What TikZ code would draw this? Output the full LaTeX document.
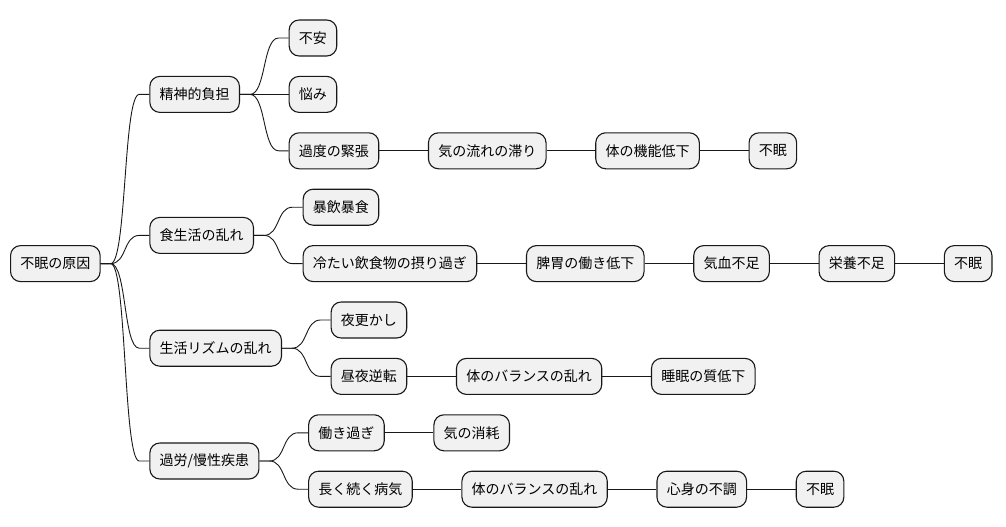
\documentclass[tikz,border=0pt]{standalone}
\usepackage{fontspec}
\setmainfont{Noto Sans CJK JP}
\usepackage{xcolor}
\usetikzlibrary{positioning,calc}

\definecolor{boxgray}{HTML}{F1F1F1}
\definecolor{linegray}{HTML}{181818}

\tikzset{
  topic/.style={draw=linegray, line width=1.1pt, fill=boxgray, rounded corners=10pt,
    minimum height=36pt, inner xsep=9.8pt, inner ysep=3pt,
    font=\fontsize{14}{16}\selectfont},
  edge/.style={draw=linegray, line width=0.9pt},
  branch/.style={to path={-- ++(10,0) .. controls +(16,0) and +(-16,0)
    .. ($(\tikztotarget)+(-10,0)$) -- (\tikztotarget)}},
}

\begin{document}
\begin{tikzpicture}[x=1pt, y=1pt, node distance=48.6pt]
\useasboundingbox (0,0) rectangle (1006,-527);
% root and main causes
\node[topic, anchor=west] (root) at (10,-263.6) {不眠の原因};
\node[topic, right=of root, yshift=169.2pt] (mind) {精神的負担};
\node[topic, right=of root, yshift=28.2pt] (diet) {食生活の乱れ};
\node[topic, right=of root, yshift=-84.6pt] (rhythm) {生活リズムの乱れ};
\node[topic, right=of root, yshift=-197.4pt] (fatigue) {過労/慢性疾患};

% mental strain
\node[topic, right=of mind, yshift=56.4pt] (anx) {不安};
\node[topic, right=of mind] (worry) {悩み};
\node[topic, right=of mind, yshift=-56.4pt] (tension) {過度の緊張};
\node[topic, right=of tension] (qistag) {気の流れの滞り};
\node[topic, right=of qistag] (funcdown) {体の機能低下};
\node[topic, right=of funcdown] (sleepa) {不眠};

% eating habits
\node[topic, right=of diet, yshift=28.2pt] (binge) {暴飲暴食};
\node[topic, right=of diet, yshift=-28.2pt] (cold) {冷たい飲食物の摂り過ぎ};
\node[topic, right=of cold] (spleen) {脾胃の働き低下};
\node[topic, right=of spleen] (qiblood) {気血不足};
\node[topic, right=of qiblood] (nutri) {栄養不足};
\node[topic, right=of nutri] (sleepb) {不眠};

% life rhythm
\node[topic, right=of rhythm, yshift=28.2pt] (late) {夜更かし};
\node[topic, right=of rhythm, yshift=-28.2pt] (reverse) {昼夜逆転};
\node[topic, right=of reverse] (balancea) {体のバランスの乱れ};
\node[topic, right=of balancea] (quality) {睡眠の質低下};

% overwork / chronic illness
\node[topic, right=of fatigue, yshift=28.2pt] (overwork) {働き過ぎ};
\node[topic, right=of fatigue, yshift=-28.2pt] (illness) {長く続く病気};
\node[topic, right=of overwork] (qiloss) {気の消耗};
\node[topic, right=of illness] (balanceb) {体のバランスの乱れ};
\node[topic, right=of balanceb] (unwell) {心身の不調};
\node[topic, right=of unwell] (sleepc) {不眠};

% curved branches
\foreach \c in {mind,diet,rhythm,fatigue}
  \draw[edge] (root.east) to[branch] (\c.west);
\foreach \c in {anx,worry,tension}
  \draw[edge] (mind.east) to[branch] (\c.west);
\foreach \c in {binge,cold}
  \draw[edge] (diet.east) to[branch] (\c.west);
\foreach \c in {late,reverse}
  \draw[edge] (rhythm.east) to[branch] (\c.west);
\foreach \c in {overwork,illness}
  \draw[edge] (fatigue.east) to[branch] (\c.west);

% straight chains
\draw[edge] (tension) -- (qistag) -- (funcdown) -- (sleepa);
\draw[edge] (cold) -- (spleen) -- (qiblood) -- (nutri) -- (sleepb);
\draw[edge] (reverse) -- (balancea) -- (quality);
\draw[edge] (overwork) -- (qiloss);
\draw[edge] (illness) -- (balanceb) -- (unwell) -- (sleepc);
\end{tikzpicture}
\end{document}
